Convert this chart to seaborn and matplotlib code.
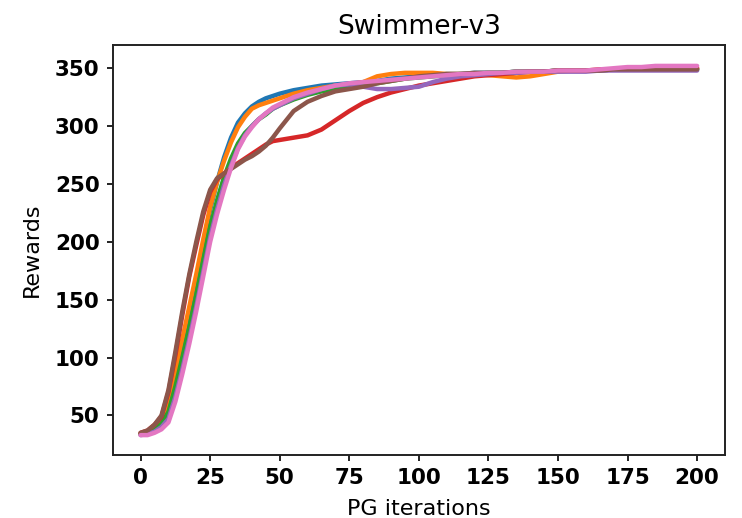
import matplotlib
matplotlib.use("Agg")
import matplotlib.pyplot as plt
import seaborn as sns
import pandas as pd

iters = [0, 2.5, 5, 7.5, 10, 12.5, 15, 17.5, 20, 22.5, 25, 27.5, 30, 32.5, 35, 37.5, 40, 42.5, 45, 47.5, 50,
         55, 60, 65, 70, 75, 80, 85, 90, 95, 100, 105, 110, 115, 120, 125, 130, 135, 140, 145, 150,
         155, 160, 165, 170, 175, 180, 185, 190, 195, 200]

run_blue = [34, 36, 40, 46, 60, 85, 112, 140, 168, 198, 228, 252, 273, 290, 303, 311, 317, 321, 324, 326, 328,
            331, 333, 335, 336, 337, 338, 339, 341, 342, 343, 344, 345, 345, 346, 346, 346, 347, 347, 347, 348,
            348, 348, 348, 349, 349, 349, 349, 349, 349, 349]
run_orange = [34, 36, 40, 47, 62, 88, 116, 144, 172, 202, 230, 252, 270, 286, 299, 308, 315, 318, 320, 322, 324,
              328, 331, 333, 335, 336, 338, 343, 345, 346, 346, 346, 345, 345, 345, 344, 343, 342, 343, 345, 347,
              348, 348, 348, 349, 349, 349, 350, 350, 350, 350]
run_green = [34, 35, 38, 43, 53, 75, 100, 126, 154, 184, 213, 236, 256, 272, 285, 294, 300, 306, 310, 315, 318,
             323, 327, 330, 332, 333, 335, 337, 339, 341, 342, 343, 344, 345, 345, 346, 346, 347, 347, 347, 348,
             348, 348, 348, 349, 349, 349, 349, 349, 349, 349]
run_red = [35, 37, 42, 49, 70, 102, 137, 170, 197, 223, 243, 254, 259, 264, 268, 272, 276, 280, 284, 287, 288,
           290, 292, 297, 305, 313, 320, 325, 329, 332, 335, 337, 339, 341, 343, 344, 345, 346, 347, 347, 348,
           348, 348, 349, 349, 349, 349, 350, 350, 350, 350]
run_purple = [33, 34, 36, 40, 47, 66, 90, 116, 144, 174, 204, 228, 249, 266, 281, 292, 300, 306, 311, 315, 318,
              324, 328, 332, 335, 336, 334, 332, 332, 333, 334, 338, 341, 343, 344, 345, 346, 346, 347, 347, 347,
              347, 347, 348, 348, 348, 348, 348, 348, 348, 348]
run_brown = [35, 37, 42, 50, 72, 105, 140, 172, 200, 226, 245, 255, 259, 263, 267, 271, 274, 278, 283, 290, 298,
             313, 321, 326, 330, 332, 334, 337, 339, 341, 343, 344, 345, 345, 346, 346, 346, 347, 347, 347, 348,
             348, 348, 348, 349, 349, 349, 349, 349, 349, 349]
run_pink = [33, 33, 35, 38, 44, 62, 86, 112, 140, 170, 200, 224, 245, 264, 280, 291, 299, 306, 311, 316, 319,
            325, 329, 332, 335, 337, 338, 339, 340, 341, 342, 343, 344, 345, 345, 346, 346, 347, 347, 347, 348,
            348, 348, 349, 350, 351, 351, 352, 352, 352, 352]

runs = [run_blue, run_orange, run_green, run_red, run_purple, run_brown, run_pink]
run_names = ["run1", "run2", "run3", "run4", "run5", "run6", "run7"]

rows = []
for name, vals in zip(run_names, runs):
    for x, y in zip(iters, vals):
        rows.append({"iter": x, "reward": y, "run": name})
df = pd.DataFrame(rows)

sns.set_style("ticks")
plt.rcParams["font.family"] = ["DejaVu Sans"]
plt.rcParams["text.color"] = "black"
plt.rcParams["axes.labelcolor"] = "black"
plt.rcParams["xtick.color"] = "black"
plt.rcParams["ytick.color"] = "black"

fig = plt.figure(figsize=(7.42, 5.18), dpi=100)
ax = fig.add_axes([0.152, 0.122, 0.825, 0.791])

sns.lineplot(data=df, x="iter", y="reward", hue="run", palette=sns.color_palette("tab10", 7),
             linewidth=3.2, legend=False, ax=ax)

ax.set_xlim(-10, 210)
ax.set_ylim(16, 370)
ax.set_xticks([0, 25, 50, 75, 100, 125, 150, 175, 200])
ax.set_yticks([50, 100, 150, 200, 250, 300, 350])
for lab in ax.get_xticklabels() + ax.get_yticklabels():
    lab.set_fontweight("bold")
ax.tick_params(axis="both", labelsize=15.5, length=4.5, width=1.4, color="#222222", pad=5)
for s in ax.spines.values():
    s.set_linewidth(1.4)
    s.set_color("#222222")

ax.set_title("Swimmer-v3", fontsize=19, pad=8)
ax.set_xlabel("PG iterations", fontsize=16, labelpad=8)
ax.set_ylabel("Rewards", fontsize=16, labelpad=9)

fig.savefig("out.png", dpi=100)
